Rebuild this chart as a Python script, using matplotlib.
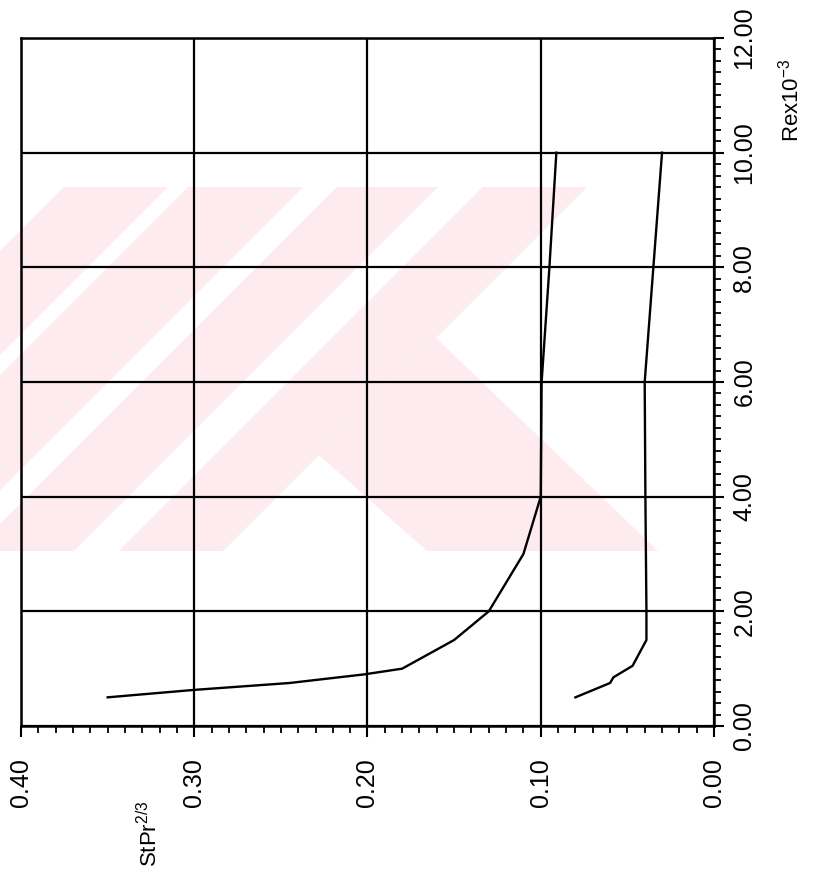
import matplotlib
matplotlib.use("Agg")
import matplotlib.pyplot as plt
import numpy as np
from matplotlib.patches import Polygon, Rectangle
from matplotlib.ticker import MultipleLocator, FormatStrFormatter

plt.rcParams["font.family"] = ["Liberation Sans", "DejaVu Sans"]
plt.rcParams["mathtext.default"] = "regular"

# Rex x 10^-3 against St Pr^(2/3)
rex_upper = [0.5, 0.63, 0.75, 0.9, 1.0, 1.5, 2.0, 3.0, 4.0, 6.0, 8.0, 10.0]
st_upper = [0.35, 0.30, 0.245, 0.202, 0.18, 0.15, 0.13, 0.11, 0.10, 0.0995, 0.095, 0.091]

rex_lower = [0.5, 0.75, 0.85, 1.05, 1.5, 2.0, 4.0, 6.0, 8.0, 10.0]
st_lower = [0.08, 0.06, 0.058, 0.047, 0.039, 0.039, 0.0396, 0.040, 0.035, 0.030]

W, H = 824, 884
fig = plt.figure(figsize=(W / 100, H / 100), dpi=100)

# faint pink stamp behind the grid (pixel coords, y down)
bg = fig.add_axes([0, 0, 1, 1], zorder=0)
bg.set_xlim(0, W)
bg.set_ylim(H, 0)
bg.axis("off")
pink = "#fdebef"
clip = Rectangle((0, 187), W, 364, transform=bg.transData, visible=False)
bg.add_patch(clip)
shapes = [
    [(64, 187), (168, 187), (-196, 551), (-300, 551)],
    [(188, 187), (303, 187), (-61, 551), (-176, 551)],
    [(337, 187), (438, 187), (74, 551), (-27, 551)],
    [(483, 187), (587, 187), (223, 551), (119, 551)],
    [(436, 338), (658, 551), (427, 551), (319, 455)],
]
for pts in shapes:
    p = Polygon(pts, closed=True, facecolor=pink, edgecolor="none")
    bg.add_patch(p)
    p.set_clip_path(clip)

# main axes, turned on its side
ax = fig.add_axes([21 / W, 1 - 726 / H, 693 / W, 688 / H], zorder=1)
ax.set_facecolor("none")

ax.plot(st_upper, rex_upper, color="k", lw=1.7)
ax.plot(st_lower, rex_lower, color="k", lw=1.7)

ax.set_xlim(0.40, 0.0)
ax.set_ylim(0, 12)

ax.xaxis.set_major_locator(MultipleLocator(0.1))
ax.xaxis.set_minor_locator(MultipleLocator(0.01))
ax.xaxis.set_major_formatter(FormatStrFormatter("%.2f"))
ax.yaxis.set_major_locator(MultipleLocator(2))
ax.yaxis.set_minor_locator(MultipleLocator(0.2))
ax.yaxis.set_major_formatter(FormatStrFormatter("%.2f"))

ax.yaxis.tick_right()
ax.tick_params(axis="x", which="major", direction="out", length=8, width=1.5,
               pad=15, labelsize=18, labelrotation=90)
ax.tick_params(axis="x", which="minor", direction="out", length=5, width=1.3)
ax.tick_params(axis="y", which="major", direction="out", length=7.2, width=1.5,
               pad=6, labelsize=18, labelrotation=90)
ax.tick_params(axis="y", which="minor", direction="out", length=5, width=1.3)
for lab in ax.get_yticklabels():
    lab.set_va("center")

ax.grid(True, which="major", color="k", lw=1.6)
for s in ax.spines.values():
    s.set_linewidth(1.8)

fig.text(791 / W, 1 - 100 / H, r"Rex10$^{-3}$", rotation=90, fontsize=16,
         ha="center", va="center")
fig.text(150 / W, 1 - 834 / H, r"StPr$^{2/3}$", rotation=90, fontsize=16,
         ha="center", va="center")

fig.savefig("out.png", dpi=100)
